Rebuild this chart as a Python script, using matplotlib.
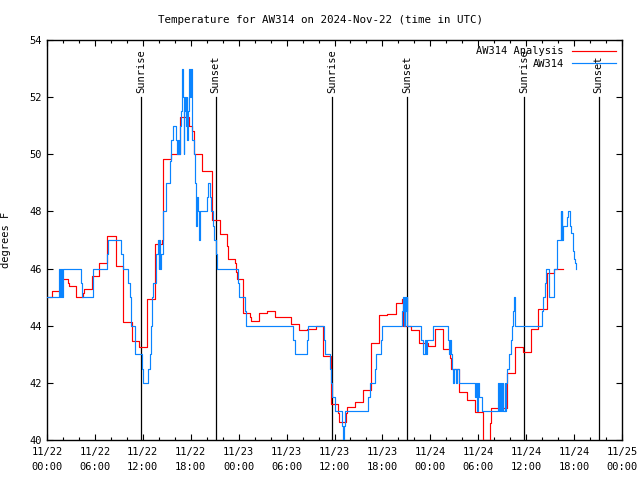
import matplotlib
matplotlib.use("Agg")
import matplotlib.pyplot as plt
import numpy as np

# ---- data (hours since 2024-11-22 00:00 UTC, degrees F) ----
analysis_t = [0, 0.6, 1.6, 2.6, 2.7, 3.6, 4.5, 4.6, 5.6, 6.55,
              7.55, 8.6, 8.7, 9.55, 10.6, 11.55, 12.56, 13.5, 14.35, 14.57,
              15.53, 16.65, 17.78, 18.1, 18.45, 19.45, 20.6, 21.6, 22.6, 22.7,
              23.6, 23.7, 23.8, 24.5, 24.6, 25.4, 25.5, 26.6, 27.6, 28.6,
              30.5, 31.55, 32.6, 33.65, 34.6, 35.5, 35.6, 36.5, 36.6, 37.45,
              37.55, 38.6, 39.6, 40.6, 41.6, 42.6, 43.65, 44.5, 44.6, 45.6,
              46.6, 47.7, 48.6, 49.55, 50.5, 50.6, 51.6, 52.6, 53.6, 54.55,
              55.5, 55.6, 57.55, 58.6, 59.65, 60.55, 61.5, 62.6, 63.5, 64.6]
analysis_v = [45.0, 45.22, 45.65, 45.5, 45.38, 45.0, 45.15, 45.28, 45.73, 46.2,
              47.13, 46.58, 46.08, 44.12, 43.46, 43.27, 44.95, 46.85, 47.0, 49.83,
              50.0, 51.3, 51.0, 50.8, 50.0, 49.4, 47.7, 47.22, 46.78, 46.35,
              46.18, 45.88, 45.63, 45.48, 44.46, 44.31, 44.16, 44.46, 44.51, 44.29,
              44.06, 43.85, 43.89, 43.98, 42.93, 42.1, 41.25, 40.96, 40.62, 40.93,
              41.17, 41.32, 41.75, 43.4, 44.37, 44.42, 44.78, 44.92, 43.98, 43.85,
              43.4, 43.3, 43.9, 43.17, 42.86, 42.47, 41.69, 41.4, 40.99, 40.0,
              40.58, 41.13, 42.33, 43.24, 43.09, 43.9, 44.6, 45.86, 46.0, 46.0]

obs_t = [0, 1.55, 1.62, 1.75, 1.85, 2.05, 4.22, 4.34, 5.8, 7.47,
         7.6, 9.27, 9.47, 10.19, 10.4, 10.48, 11.02, 11.85, 11.98, 12.69,
         12.9, 13.0, 13.2, 13.3, 13.65, 13.94, 14.0, 14.08, 14.16, 14.24,
         14.57, 14.86, 15.4, 15.53, 15.82, 16.15, 16.32, 16.4, 16.53, 16.65,
         16.78, 16.86, 16.95, 17.03, 17.1, 17.2, 17.3, 17.4, 17.5, 17.57,
         17.68, 17.78, 17.9, 18.0, 18.12, 18.16, 18.2, 18.45, 18.53, 18.6,
         18.74, 18.87, 19.03, 19.16, 20.0, 20.12, 20.41, 20.54, 20.83, 20.91,
         21.16, 21.33, 23.96, 24.08, 24.8, 24.92, 30.85, 31.06, 32.5, 32.64,
         34.73, 34.81, 35.44, 35.52, 35.73, 36.06, 36.9, 37.1, 37.2, 37.32,
         40.24, 40.45, 41.07, 41.2, 41.78, 41.9, 44.41, 44.54, 44.7, 44.8,
         44.95, 45.04, 45.12, 46.85, 47.04, 47.33, 47.45, 47.6, 48.37, 50.25,
         50.35, 50.45, 50.55, 50.68, 50.8, 50.95, 51.2, 51.4, 51.6, 53.6,
         53.7, 53.8, 53.95, 54.1, 54.43, 56.5, 56.6, 56.75, 56.85, 57.0,
         57.1, 57.3, 57.4, 57.5, 57.63, 57.85, 58.06, 58.27, 58.4, 58.48,
         58.6, 62.02, 62.15, 62.36, 62.44, 62.86, 63.49, 63.82, 64.32, 64.38,
         64.45, 64.52, 64.66, 65.07, 65.2, 65.49, 65.61, 65.82, 65.99, 66.1,
         66.2, 66.24]
obs_v = [45, 46, 45, 46, 45, 46, 45.5, 45, 46, 46.5,
         47, 46.5, 46, 45.5, 45, 44, 43, 42.5, 42, 42.5,
         43, 44, 45, 45.5, 46.5, 47, 46, 47, 46, 46.5,
         48, 49, 49.75, 50.5, 51, 50.5, 50, 50.5, 50, 51,
         51.5, 52, 53, 52, 50, 51.5, 52, 51, 52, 50.5,
         51.5, 53, 52, 53, 52, 51.5, 50.5, 50, 49, 47.5,
         48.5, 48, 47, 48, 48.5, 49, 48.5, 48, 47.5, 47,
         46.5, 46, 45.5, 45, 44.5, 44, 43.5, 43, 43.5, 44,
         43.5, 43, 42.5, 42, 41.5, 41, 40.5, 40.0, 40.5, 41,
         41.5, 42, 42.5, 43, 43.5, 44, 44.5, 45, 44, 45,
         44.5, 45, 44, 43.5, 43, 43.5, 43, 43.5, 44, 43.5,
         43, 43.5, 43, 42.5, 42, 42.5, 42, 42.5, 42, 41.5,
         42, 41, 42, 41.5, 41, 42, 41, 42, 41, 42,
         41, 42, 41, 42, 42.5, 43, 43.5, 44, 44.5, 45,
         44, 44.5, 45, 45.5, 46, 45, 46, 47, 48, 47,
         48, 47, 47.5, 47.8, 48, 47.5, 47.25, 46.6, 46.35, 46.2,
         46.0, 46.0]

sunrise_t = [11.8, 35.72, 59.75]
sunset_t = [21.1, 45.1, 69.07]

x_tick_hours = [0, 6, 12, 18, 24, 30, 36, 42, 48, 54, 60, 66, 72]
x_tick_labels = ["11/22\n00:00", "11/22\n06:00", "11/22\n12:00", "11/22\n18:00",
                 "11/23\n00:00", "11/23\n06:00", "11/23\n12:00", "11/23\n18:00",
                 "11/24\n00:00", "11/24\n06:00", "11/24\n12:00", "11/24\n18:00",
                 "11/25\n00:00"]
y_ticks = [40, 42, 44, 46, 48, 50, 52, 54]

title = "Temperature for AW314 on 2024-Nov-22 (time in UTC)"

# ---- figure ----
FONT = "DejaVu Sans Mono"
FS = 7.5
plt.rcParams['font.family'] = [FONT]

fig = plt.figure(figsize=(6.4, 4.8), dpi=100)
ax = fig.add_axes([47 / 640, 1 - 440 / 480, 575 / 640, 400 / 480])

ax.plot(analysis_t, analysis_v, drawstyle='steps-post', color='#ff0000', lw=0.85,
        label='AW314 Analysis', zorder=3)
ax.plot(obs_t, obs_v, drawstyle='steps-post', color='#0a84ff', lw=0.85,
        label='AW314', zorder=3)

for t in sunrise_t:
    ax.plot([t, t], [40, 52.0], color='black', lw=0.9)
    ax.text(t, 52.15, "Sunrise", rotation=90, ha='center', va='bottom', fontsize=FS)
for t in sunset_t:
    ax.plot([t, t], [40, 52.0], color='black', lw=0.9)
    ax.text(t, 52.15, "Sunset", rotation=90, ha='center', va='bottom', fontsize=FS)

ax.set_xlim(0, 72)
ax.set_ylim(40, 54)
ax.set_xticks(x_tick_hours)
ax.set_xticklabels(x_tick_labels, fontsize=FS, linespacing=1.6)
ax.set_xticks(np.arange(0, 73, 2), minor=True)
ax.set_yticks(y_ticks)
ax.set_yticklabels([str(v) for v in y_ticks], fontsize=FS)
ax.tick_params(which='major', direction='in', length=4.5, width=0.8,
               top=True, right=True, pad=4)
ax.tick_params(which='minor', direction='in', length=2.5, width=0.8,
               top=True, right=False)
ax.tick_params(axis='x', pad=5)
for s in ax.spines.values():
    s.set_linewidth(1.0)

ax.set_ylabel("degrees F", fontsize=FS, labelpad=13)
fig.text(0.5, 1 - 20 / 480, title, ha='center', va='center', fontsize=7.8)

leg = ax.legend(loc='upper right', frameon=False, fontsize=FS, markerfirst=False,
                handlelength=4.2, handletextpad=0.8, borderaxespad=0.2,
                labelspacing=0.25)

fig.savefig("out.png", dpi=100)
